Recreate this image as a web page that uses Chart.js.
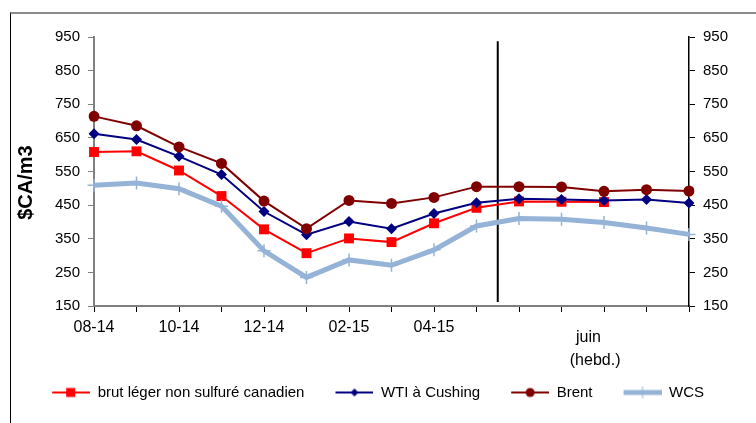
<!DOCTYPE html>
<html lang="fr">
<head>
  <meta charset="UTF-8">
  <title>Prix du brut</title>
  <script src="https://cdn.jsdelivr.net/npm/chart.js"></script>
  <style>
    body { margin:0; background:#fff; }
    .wrap { position:relative; width:756px; height:423px; overflow:hidden; }
    .frame { position:absolute; left:10px; top:12px; width:800px; height:500px;
             border-top:2px solid #8c8c8c; border-left:1px solid #000; }
    canvas { position:absolute; left:0; top:0; }
  </style>
</head>
<body>
  <div class="wrap">
    <div class="frame"></div>
    <canvas id="c" width="756" height="423"></canvas>
  </div>

  <script>
    // mois 08-14 -> 05-15, puis semaines de juin
    const categories=["08-14","09-14","10-14","11-14","12-14","01-15","02-15","03-15","04-15","05-15",
                      "juin S1","juin S2","juin S3","juin S4","juin S5"];
    const tickLabels=["08-14","","10-14","","12-14","","02-15","","04-15","","","",
                      ["juin       ","(hebd.)    "],"",""];
    const yTicks=[150,250,350,450,550,650,750,850,950];

    const brutLeger=[608,610,553,477,378,307,351,340,396,442,461,460,459,null,null];
    const wti      =[662,645,595,541,431,362,401,380,425,457,469,467,464,467,456];
    const brent    =[714,686,623,574,462,380,464,455,473,505,505,504,491,496,492];
    const wcs      =[509,516,499,447,314,235,287,271,317,388,410,408,398,382,363];

    const FONT="'Liberation Sans', Arial, sans-serif";
    const C_RED="#ff0000", C_WTI="#000080", C_BRENT="#800000", C_WCS="#95b3d7";

    // petites images pour la légende (trait + marqueur, style Excel)
    // 21px vides à gauche pour espacer les entrées
    function legendImg(color, lw, marker){
      const cv=document.createElement("canvas");
      cv.width=59; cv.height=14;
      const g=cv.getContext("2d");
      g.translate(21,0);
      g.strokeStyle=color; g.lineWidth=lw;
      g.beginPath(); g.moveTo(0,7); g.lineTo(38,7); g.stroke();
      g.fillStyle=color;
      if(marker==="rect"){ g.fillRect(14,2.5,9,9); }
      if(marker==="diamond"){ g.beginPath(); g.moveTo(19,3); g.lineTo(23,7); g.lineTo(19,11); g.lineTo(15,7); g.closePath(); g.fill(); }
      if(marker==="circle"){ g.beginPath(); g.arc(19,7,4.5,0,Math.PI*2); g.fill(); }
      if(marker==="cross"){ g.lineWidth=1; g.beginPath(); g.moveTo(19,1); g.lineTo(19,13); g.stroke(); }
      return cv;
    }
    const legendImgs=[
      legendImg(C_RED,2,"rect"),
      legendImg(C_WTI,2,"diamond"),
      legendImg(C_BRENT,2,"circle"),
      legendImg(C_WCS,5,"cross")
    ];

    // trait vertical entre mensuel et hebdomadaire
    const separator={
      id:"separator",
      beforeDatasetsDraw(chart){
        const {ctx, scales:{x,y}}=chart;
        const px=(x.getPixelForValue(9)+x.getPixelForValue(10))/2;
        ctx.save();
        ctx.strokeStyle="#000"; ctx.lineWidth=2;
        ctx.beginPath();
        ctx.moveTo(px,y.getPixelForValue(937));
        ctx.lineTo(px,y.getPixelForValue(162));
        ctx.stroke();
        ctx.restore();
      }
    };

    const yTickOpts={
      color:"#000", font:{family:FONT,size:15}, padding:8,
      autoSkip:false
    };

    new Chart(document.getElementById("c"),{
      type:"line",
      data:{
        labels:categories,
        datasets:[
          {label:"brut léger non sulfuré canadien", data:brutLeger, order:4,
           borderColor:C_RED, backgroundColor:C_RED, borderWidth:2,
           pointStyle:"rect", pointRadius:7, pointBorderWidth:0, tension:0},
          {label:"WTI à Cushing", data:wti, order:3,
           borderColor:C_WTI, backgroundColor:C_WTI, borderWidth:2,
           pointStyle:"rectRot", pointRadius:5.5, pointBorderWidth:0, tension:0},
          {label:"Brent", data:brent, order:2,
           borderColor:C_BRENT, backgroundColor:C_BRENT, borderWidth:2,
           pointStyle:"circle", pointRadius:5.5, pointBorderWidth:0, tension:0},
          {label:"WCS     ", data:wcs, order:1,
           borderColor:C_WCS, backgroundColor:C_WCS, borderWidth:5,
           pointStyle:"cross", pointRadius:6.5, pointBorderWidth:1.5, tension:0}
        ]
      },
      options:{
        responsive:false,
        animation:false,
        layout:{padding:{left:0,right:0,top:37,bottom:13}},
        scales:{
          x:{
            offset:false,
            grid:{display:true,drawOnChartArea:false,tickLength:6,color:"#000",lineWidth:1},
            border:{color:"#808080",width:2},
            ticks:{
              color:"#000", autoSkip:false, maxRotation:0, minRotation:0, padding:14,
              callback:(v,i)=>tickLabels[i],
              font:(c)=> c.index===12 ? {family:FONT,size:16,lineHeight:"23px"} : {family:FONT,size:16,lineHeight:"3px"}
            },
            afterFit:(s)=>{ s.height=69; }
          },
          y:{
            position:"left", min:150, max:950,
            afterBuildTicks:(s)=>{ s.ticks=yTicks.map(v=>({value:v})); },
            grid:{display:true,drawOnChartArea:false,tickLength:6,color:"#808080",lineWidth:1},
            border:{color:"#808080",width:2},
            ticks:yTickOpts,
            title:{display:true,text:"$CA/m3    ",color:"#000",
                   font:{family:FONT,size:20,weight:"bold"},padding:{top:14,bottom:0}},
            afterFit:(s)=>{ s.width=94; }
          },
          y2:{
            position:"right", min:150, max:950,
            afterBuildTicks:(s)=>{ s.ticks=yTicks.map(v=>({value:v})); },
            grid:{display:true,drawOnChartArea:false,tickLength:6,color:"#000",lineWidth:1},
            border:{color:"#000",width:1.5},
            ticks:yTickOpts,
            afterFit:(s)=>{ s.width=67; }
          }
        },
        plugins:{
          legend:{
            position:"bottom",
            labels:{
              color:"#000", font:{family:FONT,size:15},
              usePointStyle:true, pointStyleWidth:59, padding:10,
              sort:(a,b)=>a.datasetIndex-b.datasetIndex,
              generateLabels:(chart)=>{
                const items=Chart.defaults.plugins.legend.labels.generateLabels(chart);
                items.forEach(it=>{ it.pointStyle=legendImgs[it.datasetIndex]; });
                return items;
              }
            }
          },
          tooltip:{enabled:false}
        }
      },
      plugins:[separator]
    });
  </script>
</body>
</html>
